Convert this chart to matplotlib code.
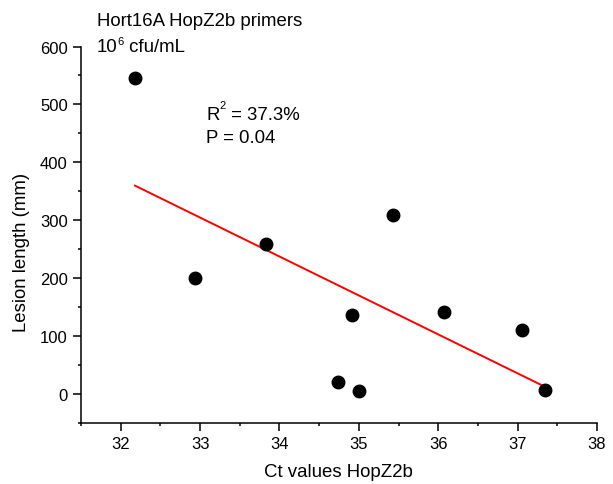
import numpy as np
import matplotlib
matplotlib.use("Agg")
import matplotlib.pyplot as plt
from matplotlib.ticker import MultipleLocator

plt.rcParams['font.family'] = ['Liberation Sans', 'DejaVu Sans']

# Data
ct_values = [32.18, 32.94, 33.83, 34.74, 35.00, 34.92, 35.43, 36.07, 37.05, 37.34]
lesion_mm = [546, 199, 258, 20, 5, 136, 309, 141, 110, 6]
x_ticks = [32, 33, 34, 35, 36, 37, 38]
y_ticks = [0, 100, 200, 300, 400, 500, 600]

W, H = 613, 485
FS = 13.4
SUP = 8
fig = plt.figure(figsize=(W / 100, H / 100), dpi=100)
ax = fig.add_axes([81 / W, (H - 423.5) / H, 516 / W, 376 / H])

ax.plot(ct_values, lesion_mm, 'o', color='black', ms=9, zorder=3, clip_on=False)

slope, intercept = np.polyfit(ct_values, lesion_mm, 1)
xl = np.array([min(ct_values), max(ct_values)])
ax.plot(xl, slope * xl + intercept, color='red', lw=1.4, zorder=2)

ax.set_xlim(31.5, 38)
ax.set_ylim(-50, 600)
ax.set_xticks(x_ticks)
ax.set_yticks(y_ticks)
ax.xaxis.set_minor_locator(MultipleLocator(0.5))
ax.yaxis.set_minor_locator(MultipleLocator(50))

for s in ['top', 'right']:
    ax.spines[s].set_visible(False)
for s in ['left', 'bottom']:
    ax.spines[s].set_linewidth(1.1)

ax.tick_params(which='major', direction='out', length=5.5, width=1.1, labelsize=12, pad=4)
ax.tick_params(which='minor', direction='out', length=2.5, width=1.1)

fig.text(338.5 / W, 1 - 477.3 / H, 'Ct values HopZ2b', fontsize=FS,
         ha='center', va='baseline')
fig.text(22 / W, 1 - 252.5 / H, 'Lesion length (mm)', fontsize=FS,
         ha='center', va='center', rotation=90)

fig.text(96.7 / W, 1 - 26 / H, 'Hort16A HopZ2b primers', fontsize=FS,
         ha='left', va='baseline')

# 10^6 cfu/mL
t10 = fig.text(97 / W, 1 - 51.7 / H, '10', fontsize=FS, ha='left', va='baseline')
t6 = ax.annotate('6', xy=(1, 1), xycoords=t10, xytext=(-0.2, 1.5),
                 textcoords='offset points', fontsize=SUP, ha='left', va='top')
ax.annotate(' cfu/mL', xy=(1, 0), xycoords=(t6, t10), xytext=(0, 0),
            textcoords='offset points', fontsize=FS, ha='left', va='bottom')

# R^2 = 37.3%
tR = fig.text(206 / W, 1 - 120 / H, 'R', fontsize=FS, ha='left', va='baseline')
t2 = ax.annotate('2', xy=(1, 1), xycoords=tR, xytext=(0.2, 4.0),
                 textcoords='offset points', fontsize=SUP, ha='left', va='top')
ax.annotate(' = 37.3%', xy=(1, 0), xycoords=(t2, tR), xytext=(0, 0),
            textcoords='offset points', fontsize=FS, ha='left', va='bottom')
fig.text(206 / W, 1 - 143.3 / H, 'P = 0.04', fontsize=FS,
         ha='left', va='baseline')

fig.savefig('out.png', dpi=100)
